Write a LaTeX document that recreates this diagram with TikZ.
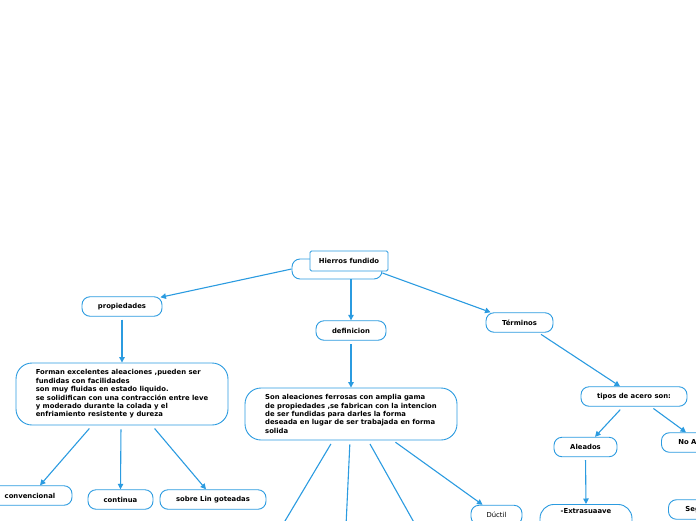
\documentclass[tikz,border=0pt]{standalone}
\usepackage{fontspec}
\setmainfont{DejaVu Sans}
\usetikzlibrary{arrows.meta}
\definecolor{linkblue}{HTML}{2B9BE0}

\tikzset{
 topic/.style={draw=linkblue, line width=0.9pt, rounded corners=8pt, fill=white,
  minimum height=19.5pt, inner sep=2pt, font=\fontsize{6.85}{8.4}\selectfont\bfseries},
 notebox/.style={topic, rounded corners=16pt, align=left},
 titlebox/.style={topic, rounded corners=1.5pt, minimum height=20pt},
 cutbox/.style={topic, anchor=west, text width=52pt, align=left, inner xsep=17pt},
 link/.style={draw=linkblue, line width=1.1pt, -{Triangle[length=5.5pt,width=5.5pt]}},
 branch/.style={draw=linkblue, line width=1.1pt}
}

\begin{document}
\begin{tikzpicture}[x=1pt,y=-1pt]
\useasboundingbox (0,0) rectangle (696,520);
\clip (0,0) rectangle (696,520);

% main topic
\node[topic, minimum width=90pt, minimum height=20pt] (root) at (337,269) {};
\node[titlebox, minimum width=78pt] (title) at (349,261) {Hierros fundido};

% first level
\node[topic, minimum width=80pt] (prop) at (122,306.5) {propiedades};
\node[topic, minimum width=70pt] (def) at (351,330.5) {definicion};
\node[topic, minimum width=67pt] (term) at (519.5,322.5) {Términos};

% propiedades
\node[notebox, minimum width=212pt, minimum height=62pt] (propnote) at (122,394) {Forman excelentes aleaciones ,pueden ser\\
fundidas con facilidades\\
son muy fluidas en estado liquido.\\
se solidifican con una contracción entre leve\\
y moderado durante la colada y el\\
enfriamiento resistente y dureza};
\node[topic, minimum width=84pt] (conv) at (30,495.5) {convencional};
\node[topic, minimum width=65pt] (cont) at (120.5,499.5) {continua};
\node[topic, minimum width=106pt] (sobre) at (213,499.5) {sobre Lin goteadas};

% definicion
\node[notebox, minimum width=212pt, minimum height=52pt] (defnote) at (351,414) {Son aleaciones ferrosas con amplia gama\\
de propiedades ,se fabrican con la intencion\\
de ser fundidas para darles la  forma\\
deseada en lugar de ser trabajada en forma\\
solida};
\node[topic, minimum width=51pt, font=\fontsize{6.85}{8.4}\selectfont] (duct) at (496.5,515) {Dúctil};
\coordinate (d1) at (282,526);
\coordinate (d2) at (346,526);
\coordinate (d3) at (416,526);

% terminos
\node[topic, minimum width=106pt] (tipos) at (634,396.5) {tipos de acero son:};
\node[topic, minimum width=63pt] (aleados) at (585.5,447) {Aleados};
\node[cutbox] (noal) at (661,442.5) {No A};
\node[cutbox] (seg) at (668,509.5) {Seg};
\node[topic, anchor=north, minimum width=92pt, rounded corners=14pt, text depth=24pt, inner ysep=4pt] (extra) at (586,504) {-Extrasuaave};

% connectors
\draw[link] (root.west) -- ([xshift=-2pt,yshift=-1pt]prop.north east);
\draw[link] (def.north |- root.south) -- (def.north);
\draw[link] ([yshift=-4pt]root.east) -- ([xshift=5pt]term.north west);
\draw[link, shorten <=3pt] (prop.south) -- (propnote.north);
\draw[link, shorten <=3.5pt] (def.south) -- (defnote.north);
\draw[link, shorten <=4pt] ([xshift=-30pt]propnote.south) -- ([xshift=10pt]conv.north);
\draw[link, shorten <=4pt] ([xshift=-1pt]propnote.south) -- (cont.north);
\draw[link, shorten <=4pt] ([xshift=30pt]propnote.south) -- ([xshift=-7pt]sobre.north);
\draw[branch, shorten <=4pt] ([xshift=-18pt]defnote.south) -- (d1);
\draw[branch, shorten <=4pt] ([xshift=-1pt]defnote.south) -- (d2);
\draw[branch, shorten <=4pt] ([xshift=17pt]defnote.south) -- (d3);
\draw[link, shorten <=3pt] ([xshift=42pt]defnote.south) -- ([xshift=12pt]duct.north west);
\draw[link, shorten <=3pt] ([xshift=19pt]term.south) -- ([xshift=-14pt]tipos.north);
\draw[link, shorten <=4pt] ([xshift=-11pt]tipos.south) -- ([xshift=9.5pt]aleados.north);
\draw[link, shorten <=3pt] ([xshift=17pt]tipos.south) -- ([xshift=25pt]noal.north west);
\draw[link, shorten <=3pt] (aleados.south) -- (extra.north);
\end{tikzpicture}
\end{document}
